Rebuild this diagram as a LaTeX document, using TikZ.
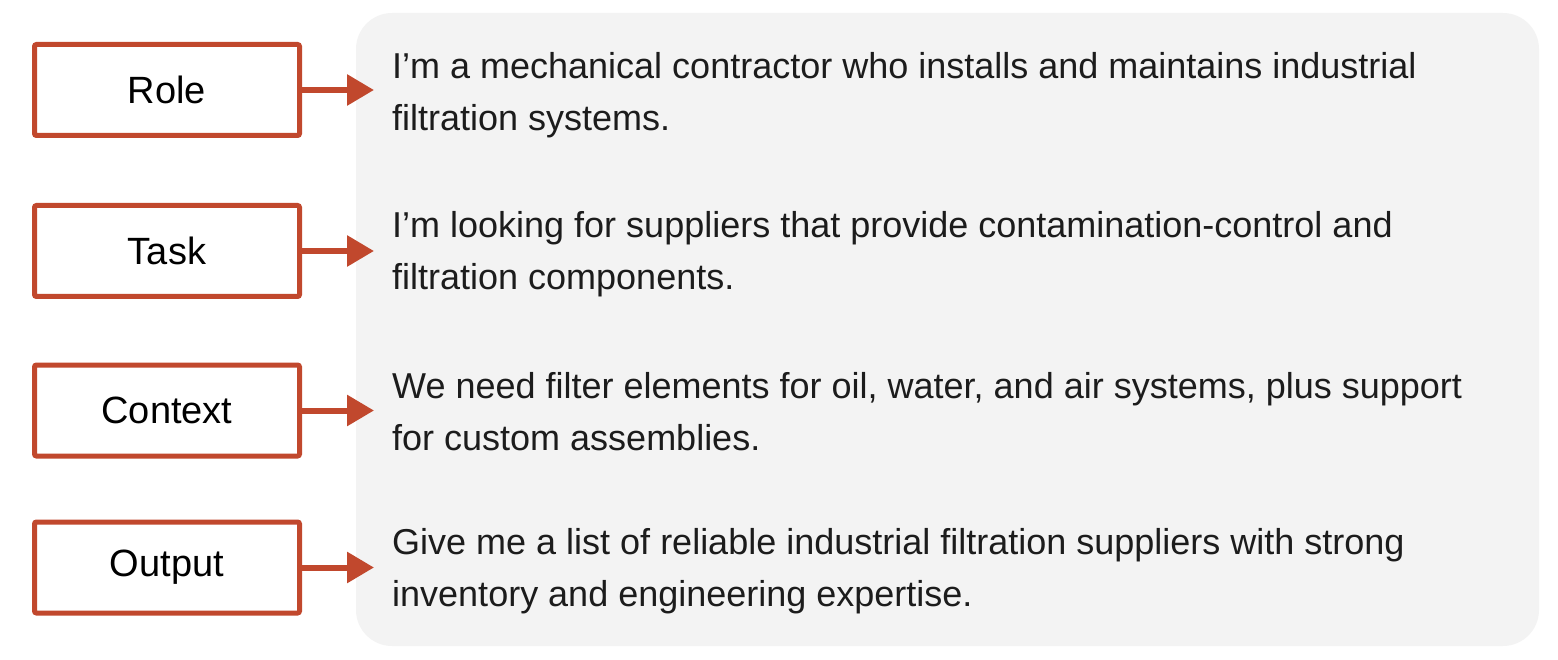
\documentclass[tikz,border=0pt]{standalone}
\usepackage{fontspec}
\setmainfont{Liberation Sans}
\usetikzlibrary{arrows.meta}
\definecolor{boxred}{HTML}{C1482D}
\definecolor{panelgray}{HTML}{F3F3F3}
\definecolor{txtblack}{HTML}{1C1C1C}

\begin{document}
\begin{tikzpicture}[x = 1pt, y = -1pt,
		field/.style = {draw = boxred, line width = 5pt, rounded corners = 2pt, fill = white,
			minimum width = 265pt, minimum height = 91pt, font = \fontsize{38}{44}\selectfont},
		desc/.style = {anchor = west, inner sep = 0pt, align = left, text = txtblack,
			font = \fontsize{36}{52}\selectfont},
		pointer/.style = {draw = boxred, line width = 6pt,
			-{Triangle[length = 27pt, width = 30pt]}, shorten > = 18pt}]
		
		\useasboundingbox (0,0) rectangle (1558,660);
		\fill [panelgray, rounded corners = 36pt] (356,13) rectangle (1539,646);
		
		\node [field] (role) at (167,90) {Role};
		\node [field] (task) at (167,251) {Task};
		\node [field] (context) at (167,410.5) {Context};
		\node [field] (output) at (167,567.5) {Output};
		
		\node [desc] (roletxt) at (392,95) {I’m a mechanical contractor who installs and maintains industrial\\filtration systems.};
		\node [desc] (tasktxt) at (392,254) {I’m looking for suppliers that provide contamination-control and\\filtration components.};
		\node [desc] (contexttxt) at (392,412) {We need filter elements for oil, water, and air systems, plus support\\for custom assemblies.};
		\node [desc] (outputtxt) at (392,571) {Give me a list of reliable industrial filtration suppliers with strong\\inventory and engineering expertise.};
		
		\draw [pointer] (role.east) -- (role.east -| roletxt.west);
		\draw [pointer] (task.east) -- (task.east -| tasktxt.west);
		\draw [pointer] (context.east) -- (context.east -| contexttxt.west);
		\draw [pointer] (output.east) -- (output.east -| outputtxt.west);
		
\end{tikzpicture}
\end{document}
